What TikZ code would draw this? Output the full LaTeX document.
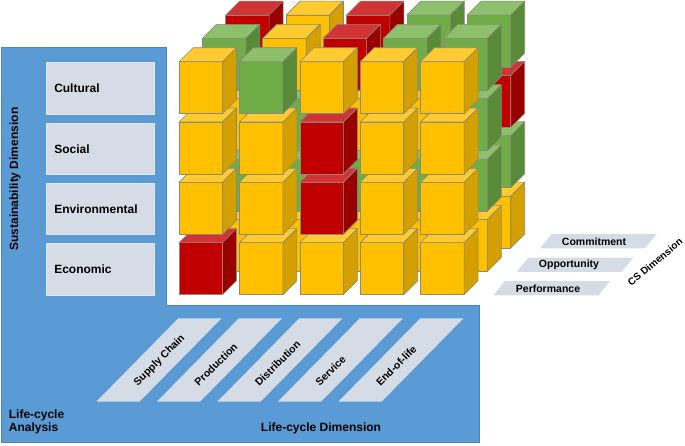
\documentclass[tikz,border=0pt]{standalone}
\usepackage{fontspec}
\setmainfont{Liberation Sans}
\definecolor{Yf}{HTML}{FFC000}
\definecolor{Yt}{HTML}{FFCB30}
\definecolor{Ys}{HTML}{D4A000}
\definecolor{Rf}{HTML}{C00000}
\definecolor{Rt}{HTML}{D03434}
\definecolor{Rs}{HTML}{990000}
\definecolor{Gf}{HTML}{70AD47}
\definecolor{Gt}{HTML}{8CC06A}
\definecolor{Gs}{HTML}{588A38}
\definecolor{panel}{HTML}{5B9BD5}
\definecolor{panelline}{HTML}{4A85BE}
\definecolor{boxfill}{HTML}{D6DCE5}
\definecolor{boxline}{HTML}{E3E7EE}
\definecolor{edge}{HTML}{8A8A7A}
\tikzset{
  cubeline/.style={draw=edge, line width=0.6pt, line join=round},
  sbox/.style={fill=boxfill, draw=boxline, line width=0.5pt, anchor=north west,
    minimum width=108pt, minimum height=51.7pt, text width=92pt, align=left,
    inner xsep=8pt, font=\fontsize{12}{14}\selectfont\bfseries},
  para/.style={fill=boxfill},
  big/.style={inner sep=0pt, font=\fontsize{12}{14}\selectfont\bfseries},
  small/.style={inner sep=0pt, font=\fontsize{10.5}{12}\selectfont\bfseries},
}
\newcommand{\cubeat}[3]{%
  \draw[cubeline,fill=#3f] (#1,#2) rectangle ++(43.5,52);
  \draw[cubeline,fill=#3t] (#1,#2) -- ++(14,-14) -- ++(43.5,0) -- ++(-14,14) -- cycle;
  \draw[cubeline,fill=#3s] ({#1+43.5},#2) -- ++(14,-14) -- ++(0,52) -- ++(-14,14) -- cycle;}
\newcommand{\cuberow}[3]{%
  \foreach \cubcol [count=\cubi from 0] in {#3}{%
    \pgfmathsetmacro\cubx{179+60.4*\cubi+23.3*#1}%
    \pgfmathsetmacro\cuby{61.7+60.33*#2-23.3*#1}%
    \edef\cubecall{\noexpand\cubeat{\cubx}{\cuby}{\cubcol}}\cubecall}}
\begin{document}
\begin{tikzpicture}[x=1pt,y=-1pt]
\useasboundingbox (0,0) rectangle (685,445);
% blue L-shaped panel
\draw[fill=panel, draw=panelline, line width=0.8pt]
  (1,47.3) -- (166.7,47.3) -- (166.7,305.7) -- (479,305.7) -- (479,442) -- (1,442) -- cycle;
% sustainability boxes
\node[sbox] (cult) at (46,62.3) {Cultural};
\node[sbox] (soc) at (46,122.7) {Social};
\node[sbox] (env) at (46,182.7) {Environmental};
\node[sbox] (eco) at (46,243.3) {Economic};
\node[big, rotate=90] (sd) at (15,179) {Sustainability Dimension};
% life-cycle parallelograms
\foreach \k/\t [count=\n from 0] in {0/Supply Chain,1/Production,2/Distribution,3/Service,4/End-of-life}{
  \fill[para] ({178.3+60.5*\k},318.3) -- ++(43.2,0) -- ++(-82,83.4) -- ++(-43.2,0) -- cycle;
  \node[small, rotate=45, anchor=west] (lc\n) at ({135.7+60.5*\k},384.3) {\t};
}
\node[big] (lcd) at (321,428) {Life-cycle Dimension};
\node[big, anchor=base west] (lca1) at (8.7,418) {Life-cycle};
\node[big, anchor=base west] (lca2) at (8.7,431.7) {Analysis};
% CS parallelograms
\fill[para] (551.7,234) -- ++(105,0) -- ++(-11.7,14.3) -- ++(-105,0) -- cycle;
\fill[para] (528.4,257.5) -- ++(105,0) -- ++(-11.7,14.3) -- ++(-105,0) -- cycle;
\fill[para] (505.1,281) -- ++(105,0) -- ++(-11.7,14.3) -- ++(-105,0) -- cycle;
\node[small] (com) at (594,241.5) {Commitment};
\node[small] (opp) at (569,265) {Opportunity};
\node[small] (perf) at (548,288.3) {Performance};
\node[inner sep=0pt, font=\fontsize{10}{12}\selectfont\bfseries, rotate=40] (csd) at (655,262) {CS Dimension};
% cubes: back layer first, bottom row first
\cuberow{2}{3}{Y,Y,Y,Y,Y}
\cuberow{2}{2}{G,G,G,G,G}
\cuberow{2}{1}{G,G,G,G,R}
\cuberow{2}{0}{R,Y,R,G,G}
\cuberow{1}{3}{Y,Y,Y,Y,Y}
\cuberow{1}{2}{G,G,G,G,G}
\cuberow{1}{1}{Y,G,Y,Y,G}
\cuberow{1}{0}{G,Y,R,G,G}
\cuberow{0}{3}{R,Y,Y,Y,Y}
\cuberow{0}{2}{Y,Y,R,Y,Y}
\cuberow{0}{1}{Y,Y,R,Y,Y}
\cuberow{0}{0}{Y,G,Y,Y,Y}
\end{tikzpicture}
\end{document}
